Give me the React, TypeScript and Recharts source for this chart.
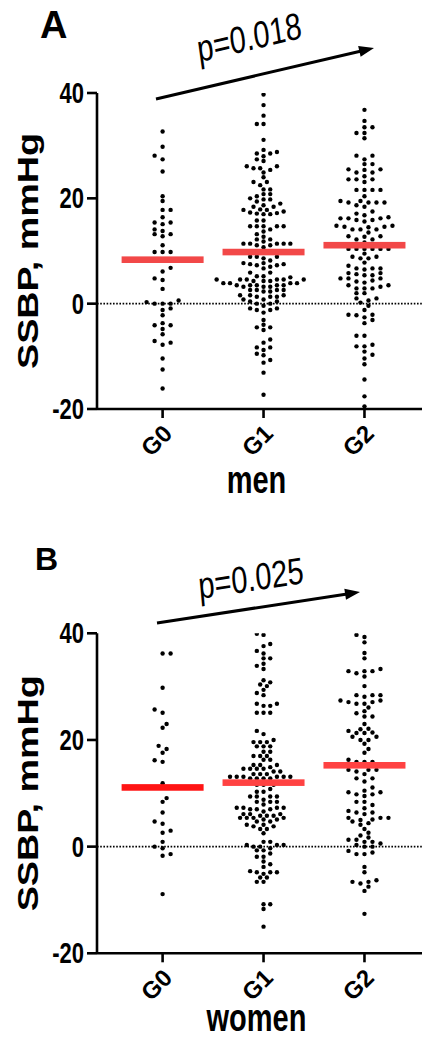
import React from 'react';
import { ScatterChart, Scatter, XAxis, YAxis, ReferenceLine } from 'recharts';

const FONT = '"Liberation Sans", Arial, Helvetica, sans-serif';

const groupLabels = ['G0', 'G1', 'G2'];
const yTicks = [-20, 0, 20, 40];

const menG0 = [32.7, 29.8, 28.1, 27.4, 25.1, 20.4, 19.5, 17.8, 17.8, 16.4, 15.4, 15.4, 15.1, 14.1, 13.8, 13.2, 13.2, 12.8, 11.1, 9.8, 9.8, 9.8, 6.8, 6.1, 4.8, 4.5, 2.8, 0.6, 0.3, 0, 0, 0, -0.9, -1.2, -2.2, -3.7, -4.1, -4.1, -4.8, -5.8, -7.1, -7.4, -7.8, -10.4, -12.5, -16.1];

const menG1 = [39.7, 37.7, 35.7, 34.1, 34.1, 31.1, 29.2, 28.8, 28.5, 28.5, 28.0, 27.4, 27.1, 26.1, 26.1, 25.7, 25.7, 25.4, 24.9, 24.0, 23.1, 23.1, 22.5, 21.7, 21.7, 20.8, 20.8, 20.4, 20.0, 19.8, 19.8, 19.4, 19.0, 18.7, 18.4, 18.4,
  17.9, 17.8, 17.8, 17.5, 17.3, 17.2, 17.1, 17.0, 17.0, 15.8, 15.8,
  14.7, 14.7, 14.7, 14.7, 14.7, 14.1, 13.7, 13.2, 12.7, 12.2, 12.2, 11.8, 11.4, 11.4, 11.4, 11.4, 11.4, 11.1, 11.1, 10.7,
  8.9, 8.9, 8.9, 8.6, 8.2, 7.7, 7.7, 7.5, 7.5, 7.3, 7.3, 7.0, 6.7, 5.9, 5.9, 5.2, 5.2, 5.0,
  4.6, 4.6, 4.6, 4.6, 4.6, 4.6, 4.3, 4.3, 4.3, 3.9, 3.9, 3.9, 3.9, 3.5, 3.5, 3.5, 3.5, 3.5, 3.2, 3.2, 3.2, 2.6, 2.6, 2.6, 2.6, 2.3, 2.3, 1.6, 1.6, 1.6, 1.3, 1.3, 1.3, 0.8, 0.8, 0.4, 0.4, 0.0, 0.0, -0.4, -0.9, -0.9, -1.2, -1.2, -1.7,
  -3.1, -4.0, -4.5, -4.5, -5.0, -6.8, -7.4, -8.3, -8.3, -8.8, -9.5, -9.8, -10.7, -11.2, -13.1, -17.3];

const menG2 = [36.8, 34.7, 33.5, 33.5, 32.4, 32.4, 31.4, 28.1, 28.1, 27.4, 26.5, 26.5, 25.5, 25.5, 25.4, 24.9, 24.9, 24.2, 23.6, 23.6, 23.6, 23.1, 21.6, 21.6, 21.6, 21.6, 20.4, 19.5, 19.5, 19.2, 19.2, 19.2, 19.2, 18.7, 18.4, 17.5, 17.1, 16.8, 16.2, 16.2, 16.2, 16.4, 15.9, 15.9, 15.6, 14.8, 14.8, 14.6, 14.6, 14.5, 14.1, 14.1, 14.1, 13.5, 12.8, 12.8, 12.7, 12.2, 12.2, 11.6, 11.0,
  10.4, 10.4, 10.4, 10.4, 10.4, 10.4, 9.5, 8.9, 8.9, 8.6, 8.6, 7.8, 7.2, 6.7, 6.7, 6.7, 6.5, 5.8, 5.8, 5.6, 5.4, 5.4, 4.8, 4.8, 4.8, 4.4, 4.2, 4.0, 3.5, 3.5, 3.2, 2.9, 2.9, 2.9, 2.0, 2.0, 1.0, 1.0, 0.6, 0.2, -0.4, -1.2, -2.1, -2.1, -2.2, -2.6, -3.1, -3.7, -6.1, -6.1, -7.8, -8.1, -8.1, -9.1, -9.7, -10.4, -11.5, -14.4, -17.6, -19.5];

const womenG0 = [36.2, 36.2, 29.8, 25.7, 25.1, 23.0, 22.3, 18.9, 18.3, 17.6, 16.2, 15.9, 11.9, 9.1, 8.4, 6.4, 4.7, 4.3, 3.0, 2.6, 0.9, 0, -0.3, -1.4, -1.7, -8.9];

const womenG1 = [39.9, 39.7, 38.0, 37.6, 36.7, 36.2, 35.3, 35.3, 34.3, 33.9, 33.3, 31.2, 30.8, 30.4, 30.1, 29.4, 28.8, 28.4, 26.8, 26.8, 26.4, 26.4, 25.1, 25.1, 25.1, 21.7, 21.1, 20.0, 19.6, 19.6, 19.6, 18.8, 18.8, 18.8, 17.8, 17.8, 17.0, 17.0, 17.0, 16.3, 16.3,
  15.3, 15.3, 15.3, 14.9, 14.6, 14.6, 14.6, 14.6, 14.1, 14.1, 13.6, 13.6, 13.6, 13.1, 13.1, 13.1, 13.1, 13.1, 13.1, 12.8, 12.8, 12.8, 12.8, 11.6, 11.6, 11.6, 10.8, 10.3, 10.3,
  9.4, 9.4, 9.4, 9.4, 8.8, 8.4, 8.4, 8.4, 7.9, 7.3, 7.3, 7.3, 7.3, 7.0, 7.0, 7.0, 6.6, 6.1, 6.1, 6.1, 5.8, 5.8, 5.8, 5.4, 5.4, 5.4, 5.4, 5.1, 5.1, 4.7, 4.7, 4.1, 4.1, 3.8, 3.8, 3.3, 3.3, 2.5,
  0.9, 0.9, 0.3, 0.3, 0.3, 0, 0, -0.3, -0.7, -0.7, -1.3, -1.9, -1.9, -2.8, -3.3, -3.8, -4.6, -4.8, -4.8, -4.8, -5.1, -5.8, -5.8, -6.6, -6.6, -10.8, -10.8, -11.7, -15.0];

const womenG2 = [39.7, 39.3, 38.3, 36.3, 35.3, 33.3, 32.9, 32.9, 32.9, 32.5, 31.9, 30.1, 28.4, 28.4, 28.4, 28.1, 27.4, 27.4, 27.1, 27.1, 26.8, 26.8, 26.1, 25.4, 25.0, 24.4, 24.4, 23.0, 22.1, 22.0, 21.7, 21.4, 21.3, 21.3, 20.6, 20.6, 20.0, 20.0, 19.3, 18.3, 17.6, 16.3, 15.9, 15.9, 15.9,
  14.4, 14.4, 14.4, 14.1, 13.6, 12.8, 12.8, 12.2, 11.1, 10.5, 10.2, 10.2, 9.8, 9.8, 9.5, 8.4, 8.4, 7.8, 7.2, 6.7, 6.4, 6.4, 6.1, 5.4, 5.4, 5.4, 5.1, 5.0, 4.7, 4.4, 4.1, 3.3, 2.6, 2.1, 1.7, 1.3, 1.3, 0.9, 0.9, 0.6, 0.3, 0, 0,
  -0.8, -1.1, -1.4, -1.4, -3.8, -4.8, -6.3, -6.6, -6.6, -6.9, -7.5, -8.3, -12.6];

const menMeans = [8.35, 9.8, 11.1];
const womenMeans = [11.1, 12.0, 15.25];

const menBarColors = ['#f24848', '#f24848', '#f24848'];
const womenBarColors = ['#ff1414', '#ff4242', '#ff4242'];

// Beeswarm layout (pixel offsets computed from the values and the y scale)
function swarm(values: number[], pxPerUnit: number, spacing: number, rowH: number) {
  const sorted = [...values].sort((a, b) => a - b);
  const placed: { py: number; dx: number }[] = [];
  const out: { y: number; dx: number }[] = [];
  let toggle = false;
  for (const v of sorted) {
    const py = v * pxPerUnit;
    let chosen = 0;
    for (let k = 0; k < 60; k++) {
      const off = (k * spacing) / 2;
      const cands = k === 0 ? [0] : toggle ? [-off, off] : [off, -off];
      let found: number | null = null;
      for (const c of cands) {
        let ok = true;
        for (const p of placed) {
          const dx = (c - p.dx) / spacing;
          const dy = (py - p.py) / rowH;
          if (dx * dx + dy * dy < 0.999) { ok = false; break; }
        }
        if (ok) { found = c; break; }
      }
      if (found !== null) { chosen = found; break; }
    }
    if (chosen !== 0) toggle = !toggle;
    placed.push({ py, dx: chosen });
    out.push({ y: v, dx: chosen });
  }
  return out;
}

function buildDots(groups: number[][], pxPerUnit: number, spacings: number[]) {
  return groups.flatMap((vals, gi) =>
    swarm(vals, pxPerUnit, spacings[gi], 4.3).map((p) => ({ x: gi, y: p.y, dx: p.dx }))
  );
}

const DotShape = (props: any) => {
  const { cx, cy, payload } = props;
  if (cx == null || cy == null) return null;
  return <circle cx={cx + (payload?.dx || 0)} cy={cy} r={2.2} fill="#000" />;
};

const BarShape = (props: any) => {
  const { cx, cy, payload } = props;
  if (cx == null || cy == null) return null;
  return <rect x={cx - 41} y={cy - 3.3} width={82} height={6.6} fill={payload.color} />;
};

const XTick = (props: any) => {
  const { x, y, payload } = props;
  const ax = x + 5;
  const ay = y + 9;
  return (
    <text
      transform={`translate(${ax}, ${ay}) rotate(-45)`}
      textAnchor="end"
      dominantBaseline="central"
      style={{ fontFamily: FONT, fontWeight: 'bold', fontSize: '24px', fill: '#000' }}
    >
      {groupLabels[payload.value]}
    </text>
  );
};

const YTick = (props: any) => {
  const { x, y, payload } = props;
  return (
    <text
      transform={`translate(${x}, ${y}) scale(1, 1.3)`}
      textAnchor="end"
      dominantBaseline="central"
      style={{ fontFamily: FONT, fontWeight: 'bold', fontSize: '22px', fill: '#000' }}
    >
      {payload.value}
    </text>
  );
};

function Panel(props: {
  groups: number[][];
  means: number[];
  colors: string[];
  xLabel: string;
  height: number;
  top: number;
  bottom: number;
  xLabelDy: number;
}) {
  const { groups, means, colors, xLabel, height, top, bottom, xLabelDy } = props;
  const plotH = height - top - bottom;
  const pxPerUnit = plotH / 60;
  const dots = buildDots(groups, pxPerUnit, [8, 6.7, 8]);
  const bars = means.map((m, i) => ({ x: i, y: m, color: colors[i] }));
  const xAxisH = bottom - 4;
  return (
    <ScatterChart width={422} height={height} margin={{ top, right: 0, bottom: 4, left: 0 }}>
      <XAxis
        type="number"
        dataKey="x"
        domain={[-0.65, 2.57]}
        ticks={[0, 1, 2]}
        allowDataOverflow
        height={xAxisH}
        axisLine={{ stroke: '#000', strokeWidth: 2.6 }}
        tickLine={{ stroke: '#000', strokeWidth: 2.6 }}
        tickSize={9}
        tick={<XTick />}
        label={{
          content: (lp: any) => {
            const vb = lp.viewBox || {};
            const cx = (vb.x || 97) + (vb.width || 325) / 2;
            const by = (vb.y || 0) + xLabelDy;
            return (
              <text
                transform={`translate(${cx - 3}, ${by}) scale(1, 1.33)`}
                textAnchor="middle"
                style={{ fontFamily: FONT, fontWeight: 'bold', fontSize: '29px', fill: '#000' }}
              >
                {xLabel}
              </text>
            );
          },
        }}
      />
      <YAxis
        type="number"
        dataKey="y"
        domain={[-20, 40]}
        ticks={yTicks}
        allowDataOverflow
        width={97}
        axisLine={{ stroke: '#000', strokeWidth: 2.6 }}
        tickLine={{ stroke: '#000', strokeWidth: 2.6 }}
        tickSize={10}
        tickMargin={3}
        tick={<YTick />}
        label={{
          content: (lp: any) => {
            const vb = lp.viewBox || {};
            const cy = (vb.y || top) + (vb.height || plotH) / 2;
            return (
              <text
                transform={`translate(38, ${cy}) rotate(-90) scale(1.3, 1)`}
                textAnchor="middle"
                style={{ fontFamily: FONT, fontWeight: 'bold', fontSize: '29px', fill: '#000' }}
              >
                SSBP, mmHg
              </text>
            );
          },
        }}
      />
      <ReferenceLine y={0} stroke="#000" strokeWidth={1.7} strokeDasharray="1.6 1.6" />
      <Scatter data={dots} shape={<DotShape />} isAnimationActive={false} />
      <Scatter data={bars} shape={<BarShape />} isAnimationActive={false} />
    </ScatterChart>
  );
}

function Arrow(props: { x1: number; y1: number; x2: number; y2: number }) {
  const { x1, y1, x2, y2 } = props;
  const len = Math.hypot(x2 - x1, y2 - y1);
  const ux = (x2 - x1) / len;
  const uy = (y2 - y1) / len;
  const nx = -uy;
  const ny = ux;
  const hl = 15;
  const hw = 5.5;
  const bx = x2 - ux * hl;
  const by = y2 - uy * hl;
  return (
    <g>
      <line x1={x1} y1={y1} x2={bx + ux * 2} y2={by + uy * 2} stroke="#000" strokeWidth={3} />
      <polygon points={`${x2},${y2} ${bx + nx * hw},${by + ny * hw} ${bx - nx * hw},${by - ny * hw}`} fill="#000" />
    </g>
  );
}

export default function App() {
  return (
    <div style={{ position: 'absolute', left: 0, top: 0, width: 422, height: 1038, background: '#fff', overflow: 'hidden' }}>
      <div style={{ position: 'absolute', left: 0, top: 0 }}>
        <Panel
          groups={[menG0, menG1, menG2]}
          means={menMeans}
          colors={menBarColors}
          xLabel="men"
          height={520}
          top={93}
          bottom={111}
          xLabelDy={84}
        />
      </div>
      <div style={{ position: 'absolute', left: 0, top: 520 }}>
        <Panel
          groups={[womenG0, womenG1, womenG2]}
          means={womenMeans}
          colors={womenBarColors}
          xLabel="women"
          height={518}
          top={113.3}
          bottom={84.7}
          xLabelDy={78}
        />
      </div>
      <svg width={422} height={1038} style={{ position: 'absolute', left: 0, top: 0, pointerEvents: 'none' }}>
        <text x={40} y={38} style={{ fontFamily: FONT, fontWeight: 'bold', fontSize: '38px', fill: '#000' }}>A</text>
        <Arrow x1={156} y1={99} x2={374} y2={48} />
        <text transform="translate(251, 50) scale(1, 1.3) rotate(-10.3)" textAnchor="middle" style={{ fontFamily: FONT, fontSize: '29px', fill: '#000' }}>p=0.018</text>
        <text x={35} y={570} style={{ fontFamily: FONT, fontWeight: 'bold', fontSize: '32px', fill: '#000' }}>B</text>
        <Arrow x1={157} y1={623} x2={360} y2={592} />
        <text transform="translate(252, 591) scale(1, 1.3) rotate(-6.7)" textAnchor="middle" style={{ fontFamily: FONT, fontSize: '29px', fill: '#000' }}>p=0.025</text>
      </svg>
    </div>
  );
}
